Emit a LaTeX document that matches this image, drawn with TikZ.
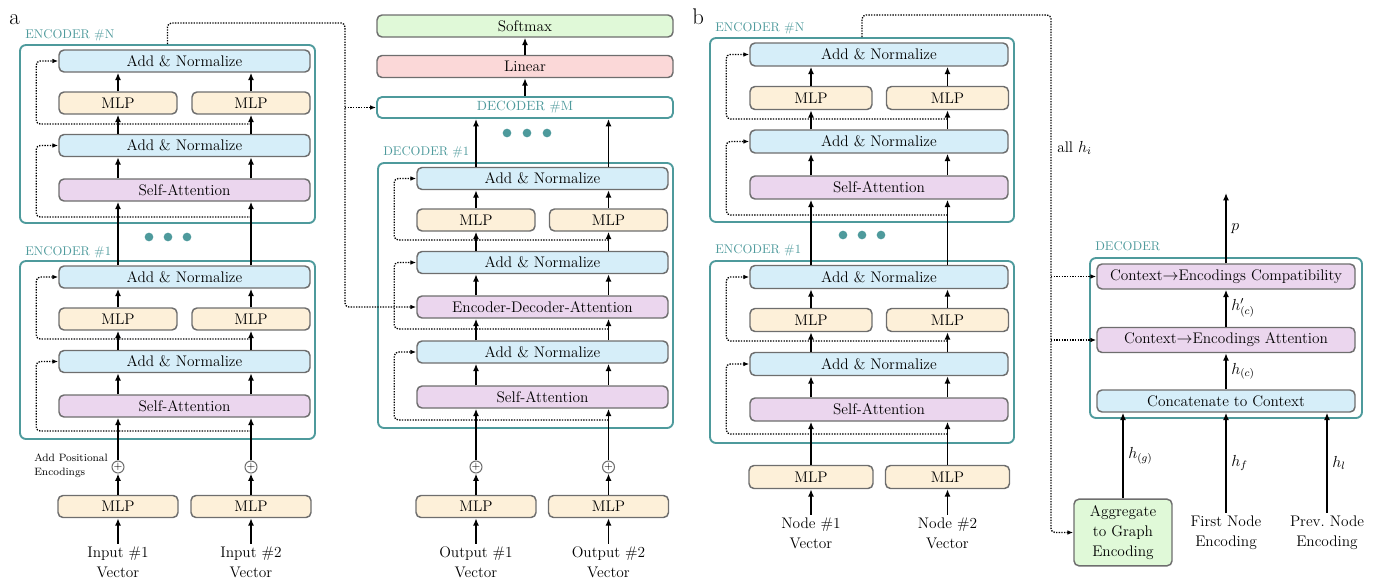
\documentclass[tikz,border=0pt]{standalone}
\usepackage{tikz}
\usetikzlibrary{calc,shapes,positioning}
\usetikzlibrary{arrows}
\usetikzlibrary{fit}
\usetikzlibrary{arrows.meta}
\tikzset{>={Latex[width=4.5pt,length=5.5pt]}}

\definecolor{tealc}{RGB}{78,154,156}
\definecolor{addblue}{RGB}{214,238,249}
\definecolor{mlporange}{RGB}{253,240,217}
\definecolor{attpurple}{RGB}{235,214,238}
\definecolor{softgreen}{RGB}{224,249,216}
\definecolor{linred}{RGB}{251,216,216}
\definecolor{boxgray}{RGB}{110,110,110}

\newcommand{\boxfont}{\fontsize{11.5}{15}\selectfont}
\newcommand{\lblfont}{\fontsize{9.5}{11}\selectfont}

\begin{document}
\begin{tikzpicture}[x=0.75pt, y=-0.75pt, font=\boxfont]
          \tikzstyle{blk} = [draw=boxgray, line width=1.1pt, rounded corners=3.75pt, inner sep=0pt, minimum height=16.5pt, align=center]
          \tikzstyle{addn} = [blk, fill=addblue]
          \tikzstyle{mlp} = [blk, fill=mlporange]
          \tikzstyle{satt} = [blk, fill=attpurple]
          \tikzstyle{wa} = [minimum width=188.25pt]
          \tikzstyle{na} = [minimum width=88.5pt]
          \tikzstyle{nai} = [minimum width=90pt]
          \tikzstyle{wb} = [minimum width=193.5pt, minimum height=17.25pt]
          \tikzstyle{nb} = [minimum width=91.5pt, minimum height=17.25pt]
          \tikzstyle{nbi} = [minimum width=93pt, minimum height=17.25pt]
          \tikzstyle{tealbox} = [draw=tealc, line width=1.4pt, rounded corners=4.5pt, inner sep=0pt]
          \tikzstyle{lbl} = [text=tealc, font=\lblfont, inner sep=0pt, anchor=base west]
          \tikzstyle{txt} = [align=center, inner sep=2pt]
          \tikzstyle{flow} = [->, line width=1.2pt]
          \tikzstyle{resline} = [-{Latex[length=4.5pt,width=3.5pt]}, line width=1pt, dash pattern=on 1pt off 1pt, rounded corners=3pt]
          \tikzstyle{tdot} = [circle, fill=tealc, inner sep=0pt, minimum size=6.5pt]
          \tikzstyle{pnode} = [circle, draw=boxgray, line width=0.8pt, fill=white, inner sep=0pt, minimum size=9pt, font=\fontsize{8}{8}\selectfont]
          \tikzstyle{panel} = [font=\fontsize{17}{20}\selectfont, anchor=base west, inner sep=0pt]

          \useasboundingbox (0,0) rectangle (1379,578);

          % ---------------- a: encoder stack
          \node[panel] (alabel) at (9,25) {a};

          \node[tealbox, fit={(20,45) (315,223)}] (aN) {};
          \node[lbl] (aNlbl) at (25,38) {ENCODER \#N};
          \node[addn, wa] (aNan1) at (184.5,61) {Add \& Normalize};
          \node[mlp, na] (aNm1) at (118,103) {MLP};
          \node[mlp, na] (aNm2) at (251,103) {MLP};
          \node[addn, wa] (aNan2) at (184.5,145.5) {Add \& Normalize};
          \node[satt, wa] (aNsa) at (184.5,190) {Self-Attention};

          \node[tdot] (adot1) at (149,237) {};
          \node[tdot] (adot2) at (168,237) {};
          \node[tdot] (adot3) at (187,237) {};

          \node[tealbox, fit={(20,261) (315,439)}] (a1) {};
          \node[lbl] (a1lbl) at (25,255) {ENCODER \#1};
          \node[addn, wa] (a1an1) at (184.5,277) {Add \& Normalize};
          \node[mlp, na] (a1m1) at (118,319) {MLP};
          \node[mlp, na] (a1m2) at (251,319) {MLP};
          \node[addn, wa] (a1an2) at (184.5,361.5) {Add \& Normalize};
          \node[satt, wa] (a1sa) at (184.5,406) {Self-Attention};

          \node[align=left, anchor=west, inner sep=0pt, font=\fontsize{8}{10.5}\selectfont] (apos) at (34,466) {Add Positional\\Encodings};
          \node[pnode] (aip1) at (118,467) {$+$};
          \node[pnode] (aip2) at (251,467) {$+$};
          \node[mlp, nai] (aim1) at (118,506.5) {MLP};
          \node[mlp, nai] (aim2) at (251,506.5) {MLP};
          \node[txt] (ain1) at (118,562) {Input \#1\\Vector};
          \node[txt] (ain2) at (251,562) {Input \#2\\Vector};

          \draw[flow] (ain1) -- (aim1);
          \draw[flow] (ain2) -- (aim2);
          \draw[flow] (aim1) -- (aip1);
          \draw[flow] (aim2) -- (aip2);
          \draw[flow] (aip1) -- (a1sa.south -| aip1);
          \draw[flow] (aip2) -- (a1sa.south -| aip2);
          \draw[flow] (a1sa.north -| a1m1) -- (a1an2.south -| a1m1);
          \draw[flow] (a1sa.north -| a1m2) -- (a1an2.south -| a1m2);
          \draw[flow] (a1an2.north -| a1m1) -- (a1m1);
          \draw[flow] (a1an2.north -| a1m2) -- (a1m2);
          \draw[flow] (a1m1) -- (a1an1.south -| a1m1);
          \draw[flow] (a1m2) -- (a1an1.south -| a1m2);
          \draw[flow] (a1an1.north -| a1m1) -- (aNsa.south -| aNm1);
          \draw[flow] (a1an1.north -| a1m2) -- (aNsa.south -| aNm2);
          \draw[flow] (aNsa.north -| aNm1) -- (aNan2.south -| aNm1);
          \draw[flow] (aNsa.north -| aNm2) -- (aNan2.south -| aNm2);
          \draw[flow] (aNan2.north -| aNm1) -- (aNm1);
          \draw[flow] (aNan2.north -| aNm2) -- (aNm2);
          \draw[flow] (aNm1) -- (aNan1.south -| aNm1);
          \draw[flow] (aNm2) -- (aNan1.south -| aNm2);

          \coordinate (aNr1) at (251,124);
          \coordinate (aNr2) at (251,217);
          \coordinate (a1r1) at (251,339);
          \coordinate (a1r2) at (251,431);
          \draw[resline] (aNr1) -| ([xshift=-16.5pt]aNan1.west) -- (aNan1.west);
          \draw[resline] (aNr2) -| ([xshift=-16.5pt]aNan2.west) -- (aNan2.west);
          \draw[resline] (a1r1) -| ([xshift=-16.5pt]a1an1.west) -- (a1an1.west);
          \draw[resline] (a1r2) -| ([xshift=-16.5pt]a1an2.west) -- (a1an2.west);

          % ---------------- a: decoder stack
          \node[blk, fill=softgreen, minimum width=222pt] (asoft) at (525,26) {Softmax};
          \node[blk, fill=linred, minimum width=222pt] (alin) at (525,66.5) {Linear};
          \node[blk, draw=tealc, line width=1.4pt, fill=white, text=tealc, minimum width=222pt, minimum height=15.75pt, font=\fontsize{10}{12}\selectfont] (adM) at (525,107.5) {DECODER \#M};
          \draw[flow] (adM) -- (alin);
          \draw[flow] (alin) -- (asoft);

          \node[tdot] (adot4) at (507,133) {};
          \node[tdot] (adot5) at (527,133) {};
          \node[tdot] (adot6) at (547,133) {};

          \node[tealbox, fit={(378,163) (673,428)}] (ad1) {};
          \node[lbl] (ad1lbl) at (383,155) {DECODER \#1};
          \node[addn, wa] (ad1an1) at (542.5,178.5) {Add \& Normalize};
          \node[mlp, na] (ad1m1) at (476,220) {MLP};
          \node[mlp, na] (ad1m2) at (608.5,220) {MLP};
          \node[addn, wa] (ad1an2) at (542.5,262.5) {Add \& Normalize};
          \node[satt, wa] (ad1eda) at (542.5,307) {Encoder-Decoder-Attention};
          \node[addn, wa] (ad1an3) at (542.5,352) {Add \& Normalize};
          \node[satt, wa] (ad1sa) at (542.5,397) {Self-Attention};

          \node[pnode] (aop1) at (476,467) {$+$};
          \node[pnode] (aop2) at (608.5,467) {$+$};
          \node[mlp, nai] (aom1) at (476,506.5) {MLP};
          \node[mlp, nai] (aom2) at (608.5,506.5) {MLP};
          \node[txt] (aout1) at (476,562) {Output \#1\\Vector};
          \node[txt] (aout2) at (608.5,562) {Output \#2\\Vector};

          \draw[flow] (aout1) -- (aom1);
          \draw[flow] (aout2) -- (aom2);
          \draw[flow] (aom1) -- (aop1);
          \draw[flow] (aom2) -- (aop2);
          \draw[flow] (aop1) -- (ad1sa.south -| aop1);
          \draw[flow] (aop2) -- (ad1sa.south -| aop2);
          \draw[flow] (ad1sa.north -| ad1m1) -- (ad1an3.south -| ad1m1);
          \draw[flow] (ad1sa.north -| ad1m2) -- (ad1an3.south -| ad1m2);
          \draw[flow] (ad1an3.north -| ad1m1) -- (ad1eda.south -| ad1m1);
          \draw[flow] (ad1an3.north -| ad1m2) -- (ad1eda.south -| ad1m2);
          \draw[flow] (ad1eda.north -| ad1m1) -- (ad1an2.south -| ad1m1);
          \draw[flow] (ad1eda.north -| ad1m2) -- (ad1an2.south -| ad1m2);
          \draw[flow] (ad1an2.north -| ad1m1) -- (ad1m1);
          \draw[flow] (ad1an2.north -| ad1m2) -- (ad1m2);
          \draw[flow] (ad1m1) -- (ad1an1.south -| ad1m1);
          \draw[flow] (ad1m2) -- (ad1an1.south -| ad1m2);
          \draw[flow] (ad1an1.north -| ad1m1) -- (adM.south -| ad1m1);
          \draw[flow] (ad1an1.north -| ad1m2) -- (adM.south -| ad1m2);

          \coordinate (ad1r1) at (608.5,240);
          \coordinate (ad1r2) at (608.5,329);
          \coordinate (ad1r3) at (608.5,420);
          \draw[resline] (ad1r1) -| ([xshift=-16.5pt]ad1an1.west) -- (ad1an1.west);
          \draw[resline] (ad1r2) -| ([xshift=-16.5pt]ad1an2.west) -- (ad1an2.west);
          \draw[resline] (ad1r3) -| ([xshift=-16.5pt]ad1an3.west) -- (ad1an3.west);

          % encoder output to the decoders
          \coordinate (abus) at (345,23);
          \draw[resline] (aN.north) |- (abus) |- (ad1eda.west);
          \draw[resline] (abus |- adM.west) -- (adM.west);

          % ---------------- b: encoder stack
          \node[panel] (blabel) at (692,25) {b};

          \node[tealbox, fit={(710,38) (1014,222)}] (bN) {};
          \node[lbl] (bNlbl) at (715,31.5) {ENCODER \#N};
          \node[addn, wb] (bNan1) at (879,54.5) {Add \& Normalize};
          \node[mlp, nb] (bNm1) at (811,98) {MLP};
          \node[mlp, nb] (bNm2) at (947.5,98) {MLP};
          \node[addn, wb] (bNan2) at (879,141.5) {Add \& Normalize};
          \node[satt, wb] (bNsa) at (879,187.5) {Self-Attention};

          \node[tdot] (bdot1) at (843,235) {};
          \node[tdot] (bdot2) at (862,235) {};
          \node[tdot] (bdot3) at (881,235) {};

          \node[tealbox, fit={(710,261) (1014,443)}] (b1) {};
          \node[lbl] (b1lbl) at (715,253) {ENCODER \#1};
          \node[addn, wb] (b1an1) at (879,277) {Add \& Normalize};
          \node[mlp, nb] (b1m1) at (811,320) {MLP};
          \node[mlp, nb] (b1m2) at (947.5,320) {MLP};
          \node[addn, wb] (b1an2) at (879,364) {Add \& Normalize};
          \node[satt, wb] (b1sa) at (879,409.5) {Self-Attention};

          \node[mlp, nbi] (bim1) at (811,477) {MLP};
          \node[mlp, nbi] (bim2) at (947.5,477) {MLP};
          \node[txt] (bin1) at (811,533) {Node \#1\\Vector};
          \node[txt] (bin2) at (947.5,533) {Node \#2\\Vector};

          \draw[flow] (bin1) -- (bim1);
          \draw[flow] (bin2) -- (bim2);
          \draw[flow] (bim1) -- (b1sa.south -| bim1);
          \draw[flow] (bim2) -- (b1sa.south -| bim2);
          \draw[flow] (b1sa.north -| b1m1) -- (b1an2.south -| b1m1);
          \draw[flow] (b1sa.north -| b1m2) -- (b1an2.south -| b1m2);
          \draw[flow] (b1an2.north -| b1m1) -- (b1m1);
          \draw[flow] (b1an2.north -| b1m2) -- (b1m2);
          \draw[flow] (b1m1) -- (b1an1.south -| b1m1);
          \draw[flow] (b1m2) -- (b1an1.south -| b1m2);
          \draw[flow] (b1an1.north -| b1m1) -- (bNsa.south -| bNm1);
          \draw[flow] (b1an1.north -| b1m2) -- (bNsa.south -| bNm2);
          \draw[flow] (bNsa.north -| bNm1) -- (bNan2.south -| bNm1);
          \draw[flow] (bNsa.north -| bNm2) -- (bNan2.south -| bNm2);
          \draw[flow] (bNan2.north -| bNm1) -- (bNm1);
          \draw[flow] (bNan2.north -| bNm2) -- (bNm2);
          \draw[flow] (bNm1) -- (bNan1.south -| bNm1);
          \draw[flow] (bNm2) -- (bNan1.south -| bNm2);

          \coordinate (bNr1) at (947.5,119);
          \coordinate (bNr2) at (947.5,215);
          \coordinate (b1r1) at (947.5,341);
          \coordinate (b1r2) at (947.5,434);
          \draw[resline] (bNr1) -| ([xshift=-17.25pt]bNan1.west) -- (bNan1.west);
          \draw[resline] (bNr2) -| ([xshift=-17.25pt]bNan2.west) -- (bNan2.west);
          \draw[resline] (b1r1) -| ([xshift=-17.25pt]b1an1.west) -- (b1an1.west);
          \draw[resline] (b1r2) -| ([xshift=-17.25pt]b1an2.west) -- (b1an2.west);

          % ---------------- b: decoder
          \node[tealbox, fit={(1090,258) (1362,418)}] (bd) {};
          \node[lbl] (bdlbl) at (1095,250) {DECODER};
          \node[satt, wb, minimum height=18.75pt] (bcomp) at (1226,276.5) {Context$\rightarrow$Encodings Compatibility};
          \node[satt, wb, minimum height=18.75pt] (batt) at (1226,340) {Context$\rightarrow$Encodings Attention};
          \node[addn, wb, minimum height=16.5pt] (bcat) at (1226,401) {Concatenate to Context};
          \coordinate (bp) at (1226,193);
          \draw[flow] (bcomp) -- node[right] {$p$} (bp);
          \draw[flow] (batt) -- node[right] {$h'_{(c)}$} (bcomp);
          \draw[flow] (bcat) -- node[right] {$h_{(c)}$} (batt);

          \node[blk, fill=softgreen, minimum width=73.5pt, minimum height=50pt] (bagg) at (1123,532.5) {Aggregate\\to Graph\\Encoding};
          \node[txt] (bfirst) at (1226,532.5) {First Node\\Encoding};
          \node[txt] (bprev) at (1327,532.5) {Prev.\ Node\\Encoding};
          \draw[flow] (bagg) -- node[right] {$h_{(g)}$} (bcat.south -| bagg);
          \draw[flow] (bfirst) -- node[right] {$h_f$} (bcat.south -| bfirst);
          \draw[flow] (bprev) -- node[right] {$h_l$} (bcat.south -| bprev);

          % all encodings to the decoder
          \coordinate (bbus) at (1051,15);
          \draw[resline] (bN.north) |- (bbus) |- (bagg.west);
          \draw[resline] (bbus |- bcomp.west) -- (bcomp.west);
          \draw[resline] (bbus |- batt.west) -- (batt.west);
          \node[anchor=base west, inner sep=0pt] (ballh) at (1057,152) {all $h_i$};
        \end{tikzpicture}
\end{document}
